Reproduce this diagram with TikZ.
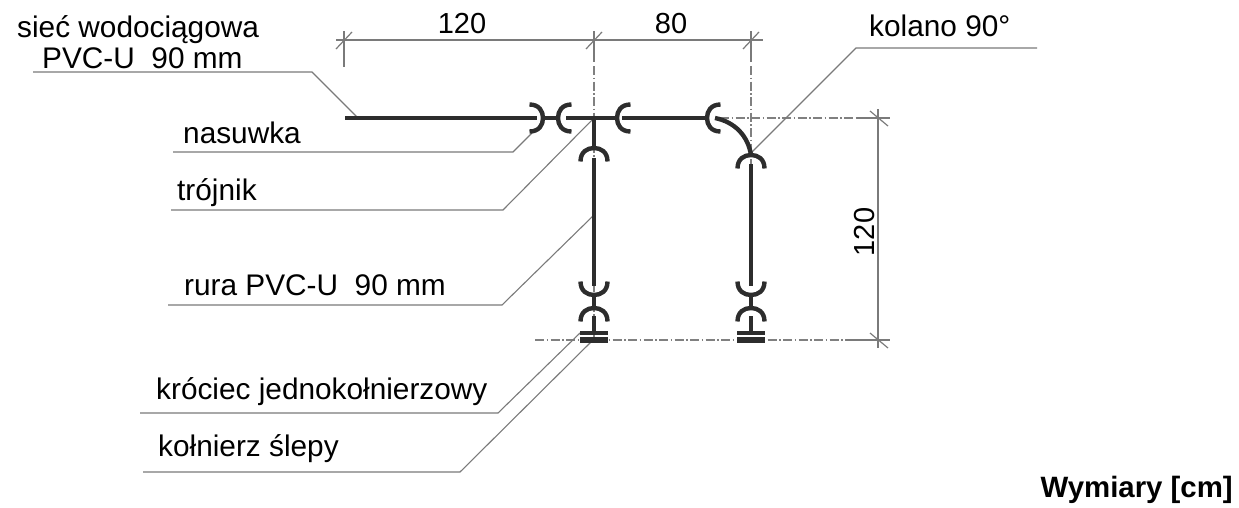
\documentclass[tikz,border=0pt]{standalone}
\usepackage{fontspec}
\setmainfont{Liberation Sans}
\usetikzlibrary{positioning}
\definecolor{pipecol}{HTML}{2D2D2D}
\definecolor{leadcol}{HTML}{7A7A7A}
\definecolor{axiscol}{HTML}{808080}
\tikzset{
  pipe/.style={draw=pipecol,line width=4.4pt},
  leader/.style={draw=leadcol,line width=1.1pt},
  dimline/.style={draw=leadcol,line width=1.2pt},
  axis/.style={draw=axiscol,line width=1.2pt,dash pattern=on 9pt off 2.5pt on 1.5pt off 2.5pt},
  label/.style={font=\fontsize{29.8}{32}\selectfont,text=black,inner sep=0pt,anchor=base west},
  dimlabel/.style={font=\fontsize{29}{32}\selectfont,text=black,inner sep=0pt,anchor=base},
  kielich/.pic={\draw[pipe] (13.5,-13.5) .. controls (4,-13.5) and (0,-7) .. (0,0) .. controls (0,7) and (4,13.5) .. (13.5,13.5);}
}
\begin{document}
\begin{tikzpicture}[x=1pt,y=-1pt]
  \useasboundingbox (0,0) rectangle (1239,507);

  % points of the pipe run
  \coordinate (start) at (345,118);
  \coordinate (tee) at (594,118);
  \coordinate (bend) at (751,153);

  % axes
  \draw[axis] (594,66) -- (594,340);
  \draw[axis] (751,66) -- (751,165);
  \draw[axis] (720,118) -- (856,118);
  \draw[axis] (535,340) -- (846,340);

  % dimensions
  \draw[dimline] (336,40) -- (763,40);
  \draw[dimline] (344,31) -- (344,67);
  \draw[dimline] (594,31) -- (594,62);
  \draw[dimline] (751,31) -- (751,62);
  \draw[dimline] (878,109) -- (878,348);
  \draw[dimline] (857,118) -- (890,118);
  \draw[dimline] (846,340) -- (890,340);
  \foreach \x in {344,594,751}
    \draw[dimline] (\x-8,49) -- (\x+8,32);
  \foreach \y in {118,340}
    \draw[dimline] (870,\y-7) -- (888,\y+8);

  % leaders
  \draw[leader] (33,72) -- (312,72) -- (358,118);
  \draw[leader] (173,152) -- (513,152) -- (534,131);
  \draw[leader] (171,210) -- (503,210) -- (tee);
  \draw[leader] (168,305) -- (502,305) -- (594,215);
  \draw[leader] (140,413) -- (498,413) -- (580,333);
  \draw[leader] (143,472) -- (460,472) -- (592,341);
  \draw[leader] (1037,48) -- (856,48) -- (bend);

  % pipes
  \draw[pipe] (start) -- (537,118);
  \draw[pipe] (543,118) -- (558,118);
  \draw[pipe] (566,118) -- (617,118);
  \draw[pipe] (622,118) -- (707,118);
  \draw[pipe] (tee) -- (594,148);
  \draw[pipe] (594,158) -- (594,286);
  \draw[pipe] (715,118) .. controls (735,122) and (748,136) .. (751,155);
  \draw[pipe] (751,164) -- (751,286);

  % sockets
  \path (543,118) pic[rotate=180] {kielich};
  \path (558,118) pic {kielich};
  \path (617,118) pic {kielich};
  \path (707,118) pic {kielich};
  \path (594,148) pic[rotate=-90] {kielich};
  \path (751,155) pic[rotate=-90] {kielich};
  \foreach \x in {594,751} {
    \path (\x,295) pic[rotate=90] {kielich};
    \path (\x,308) pic[rotate=-90] {kielich};
    \draw[pipe] (\x,295) -- (\x,308);
    \draw[pipe] (\x,316) -- (\x,333);
    \draw[pipe] (\x-14,333) -- (\x+14,333);
    \draw[draw=pipecol,line width=5.4pt] (\x-14,340) -- (\x+14,340);
  }

  % labels
  \node[label] (siec) at (17,37) {sieć wodociągowa};
  \node[label] (pvc) at (42,68) {PVC-U\ \ 90 mm};
  \node[label] (nasuwka) at (183,143) {nasuwka};
  \node[label] (trojnik) at (177,200) {trójnik};
  \node[label] (rura) at (184,295) {rura PVC-U\ \ 90 mm};
  \node[label] (krociec) at (156,399) {króciec jednokołnierzowy};
  \node[label] (kolnierz) at (158,456) {kołnierz ślepy};
  \node[label] (kolano) at (869,36) {kolano 90\textdegree};
  \node[dimlabel] (dimA) at (462,33) {120};
  \node[dimlabel] (dimB) at (671,33) {80};
  \node[dimlabel,rotate=90] (dimC) at (874,232) {120};
  \node[label,anchor=base east,font=\fontsize{29.4}{32}\selectfont\bfseries] (wymiary) at (1233,497) {Wymiary [cm]};
\end{tikzpicture}
\end{document}
